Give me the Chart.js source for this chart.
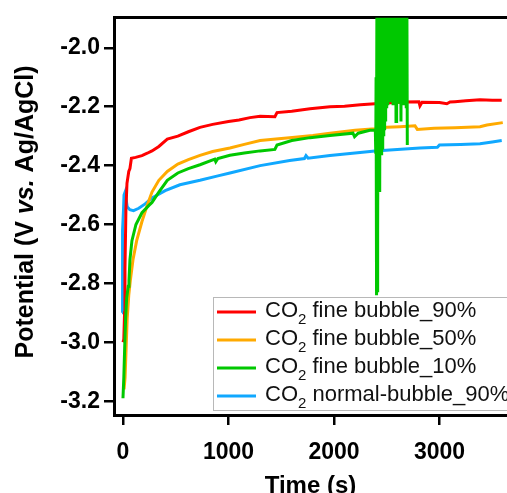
<!DOCTYPE html>
<html>
<head>
<meta charset="utf-8">
<title>Potential vs time</title>
<script src="https://cdn.jsdelivr.net/npm/chart.js@4.4.0/dist/chart.umd.min.js"></script>
<style>
    html, body { margin: 0; padding: 0; background: #fff; overflow: hidden; }
    #wrap { position: relative; width: 507px; height: 493px; }
</style>
</head>
<body>
<div id="wrap"><canvas id="potentialChart"></canvas></div>
<script>
// ======================
// Measured data: time (s) / potential (V vs. Ag/AgCl)
// ======================
const seriesLabels = ['CO₂ fine bubble_90%', 'CO₂ fine bubble_50%', 'CO₂ fine bubble_10%', 'CO₂ normal-bubble_90%'];

const xTicks = [0, 1000, 2000, 3000];
const yTicks = [-3.2, -3.0, -2.8, -2.6, -2.4, -2.2, -2.0];

const redTime = [0, 8, 15, 19, 28, 38, 55, 66, 80, 120, 180, 230, 275, 340, 420, 520, 620, 730, 850, 1000,
    1100, 1204, 1300, 1440, 1460, 1600, 1773, 1962, 2100, 2250, 2389, 2500, 2650, 2805, 2815, 2835, 3000, 3070, 3100, 3147,
    3250, 3384, 3500, 3590];
const redPotential = [-3.00, -2.99, -2.90, -2.75, -2.55, -2.46, -2.42, -2.41, -2.375, -2.372, -2.366, -2.358, -2.35, -2.335, -2.31, -2.30, -2.285, -2.27, -2.26, -2.25,
    -2.245, -2.237, -2.232, -2.234, -2.22, -2.215, -2.207, -2.20, -2.198, -2.193, -2.19, -2.187, -2.184, -2.183, -2.197, -2.185, -2.186, -2.19, -2.184, -2.183,
    -2.18, -2.176, -2.178, -2.178];

const orangeTime = [10, 20, 30, 40, 55, 70, 95, 130, 180, 230, 275, 340, 420, 520, 620, 730, 850, 1014, 1150, 1300,
    1450, 1580, 1800, 1962, 2200, 2389, 2500, 2626, 2768, 2790, 2950, 3147, 3384, 3450, 3600];
const orangePotential = [-3.16, -3.12, -3.02, -2.92, -2.84, -2.79, -2.72, -2.655, -2.59, -2.535, -2.49, -2.45, -2.42, -2.395, -2.38, -2.365, -2.352, -2.34, -2.328, -2.315,
    -2.31, -2.305, -2.298, -2.29, -2.28, -2.275, -2.27, -2.268, -2.265, -2.277, -2.273, -2.271, -2.268, -2.262, -2.254];

// 10% run: bubble burst noise between ~2400 s and ~2700 s, recording stops afterwards
const greenTime = [0, 8, 16, 25, 35, 50, 57, 66, 85, 123, 180, 246, 275, 340, 420, 520, 620, 730, 870, 880,
    900, 1014, 1150, 1300, 1440, 1460, 1600, 1773, 1962, 2180, 2195, 2230, 2340, 2392,
    2396, 2399, 2402, 2405, 2408, 2411, 2414, 2417, 2420, 2423, 2426, 2429, 2432, 2435, 2438, 2441, 2444, 2448, 2452, 2456,
    2460, 2464, 2468, 2472, 2476, 2480, 2484, 2488, 2492, 2496, 2500, 2504, 2508, 2512, 2516, 2520, 2524, 2528, 2532, 2536,
    2540, 2545, 2550, 2555, 2560, 2565, 2570, 2575, 2580, 2585, 2588, 2592, 2596, 2600, 2605, 2610, 2615, 2620, 2625, 2630,
    2635, 2640, 2645, 2650, 2655, 2660, 2665, 2670, 2675, 2680, 2685, 2690, 2695];
const greenPotential = [-3.19, -3.12, -3.02, -2.92, -2.85, -2.81, -2.79, -2.72, -2.655, -2.60, -2.56, -2.535, -2.525, -2.49, -2.45, -2.425, -2.41, -2.397, -2.378, -2.387,
    -2.376, -2.365, -2.357, -2.35, -2.345, -2.33, -2.315, -2.305, -2.298, -2.29, -2.302, -2.29, -2.28, -2.28,
    -2.36, -2.10, -2.84, -2.30, -1.70, -2.83, -1.75, -2.62, -1.80, -2.36, -1.72, -2.37, -1.85, -2.49, -1.70, -2.35, -1.78, -2.36, -1.74, -2.34,
    -1.82, -2.33, -1.70, -2.30, -1.76, -2.28, -1.93, -2.25, -1.72, -2.20, -1.80, -2.19, -1.74, -2.18, -1.85, -2.18, -1.72, -1.93, -2.18, -1.90,
    -2.17, -1.92, -2.18, -1.75, -2.19, -1.70, -2.18, -1.80, -2.18, -1.72, -2.25, -1.78, -2.18, -1.70, -2.19, -1.76, -2.18, -1.74, -2.19, -1.80,
    -2.25, -1.72, -2.19, -1.92, -2.18, -1.75, -2.19, -1.78, -2.18, -1.72, -2.20, -1.70, -2.33];

const blueTime = [-9, -7, -5, 0, 5, 10, 20, 28, 40, 65, 100, 150, 210, 275, 400, 540, 730, 900, 1014, 1300,
    1580, 1720, 1735, 1755, 1962, 2200, 2389, 2600, 2815, 2980, 3000, 3200, 3384, 3500, 3590];
const bluePotential = [-2.90, -2.80, -2.85, -2.62, -2.55, -2.50, -2.49, -2.51, -2.54, -2.55, -2.553, -2.545, -2.53, -2.51, -2.485, -2.465, -2.45, -2.435, -2.425, -2.40,
    -2.383, -2.376, -2.366, -2.375, -2.366, -2.357, -2.35, -2.345, -2.34, -2.338, -2.33, -2.328, -2.326, -2.32, -2.315];

// ======================
// Helpers
// ======================
const FONT = "'Liberation Sans', Arial, Helvetica, sans-serif";
const COLORS = ['#ff0000', '#ffaa00', '#00c800', '#10a8ff'];

function toPoints(times, values) {
    return times.map((t, i) => ({ x: t, y: values[i] }));
}

function makeSet(i, times, values, order) {
    return {
        label: seriesLabels[i],
        data: toPoints(times, values),
        borderColor: COLORS[i],
        backgroundColor: COLORS[i],
        borderWidth: 3,
        pointRadius: 0,
        tension: 0,
        order: order
    };
}

// axis titles and the boxed legend (subscript 2, italic "vs.")
const decorations = {
    id: 'decorations',
    afterDraw(chart) {
        const ctx = chart.ctx;
        const area = chart.chartArea;
        ctx.save();
        ctx.fillStyle = '#000';
        ctx.textBaseline = 'alphabetic';

        // x title
        ctx.font = `bold 24px ${FONT}`;
        ctx.textAlign = 'center';
        ctx.fillText('Time (s)', (area.left + area.right) / 2, 493);

        // y title, rotated
        const parts = [['Potential (V ', 'bold'], ['vs.', 'italic bold'], [' Ag/AgCl)', 'bold']];
        let total = 0;
        parts.forEach(p => { ctx.font = `${p[1]} 25px ${FONT}`; total += ctx.measureText(p[0]).width; });
        ctx.translate(33, 212);
        ctx.rotate(-Math.PI / 2);
        ctx.textAlign = 'left';
        let cx = -total / 2;
        parts.forEach(p => {
            ctx.font = `${p[1]} 25px ${FONT}`;
            ctx.fillText(p[0], cx, 0);
            cx += ctx.measureText(p[0]).width;
        });
        ctx.setTransform(1, 0, 0, 1, 0, 0);

        // legend
        ctx.fillStyle = '#fff';
        ctx.fillRect(213, 297, 320, 113);
        ctx.strokeStyle = '#b8b8b8';
        ctx.lineWidth = 1;
        ctx.strokeRect(213.5, 297.5, 320, 113);
        seriesLabels.forEach((label, i) => {
            const y = 312 + i * 28;
            ctx.strokeStyle = COLORS[i];
            ctx.lineWidth = 3;
            ctx.beginPath();
            ctx.moveTo(217, y);
            ctx.lineTo(256, y);
            ctx.stroke();

            const [head, tail] = label.split('₂');
            ctx.fillStyle = '#111';
            ctx.textAlign = 'left';
            let tx = 265;
            ctx.font = `22px ${FONT}`;
            ctx.fillText(head, tx, y + 5);
            tx += ctx.measureText(head).width;
            ctx.font = `15px ${FONT}`;
            ctx.fillText('2', tx, y + 12);
            tx += ctx.measureText('2').width;
            ctx.font = `22px ${FONT}`;
            ctx.fillText(tail, tx, y + 5);
        });
        ctx.restore();
    }
};

// ======================
// Chart
// ======================
const tickFont = { family: FONT, size: 23, weight: 'bold' };

const ctx = document.getElementById('potentialChart').getContext('2d');
const potentialChart = new Chart(ctx, {
    type: 'line',
    data: {
        datasets: [
            makeSet(0, redTime, redPotential, 1),
            makeSet(1, orangeTime, orangePotential, 2),
            makeSet(2, greenTime, greenPotential, 0),
            makeSet(3, blueTime, bluePotential, 3)
        ]
    },
    options: {
        responsive: true,
        maintainAspectRatio: false,
        animation: false,
        layout: { padding: 0 },
        plugins: {
            legend: { display: false },
            tooltip: { enabled: false },
            title: { display: false }
        },
        scales: {
            x: {
                type: 'linear',
                position: 'bottom',
                min: -85,
                max: 3640,
                z: 1,
                afterBuildTicks: scale => { scale.ticks = xTicks.map(v => ({ value: v })); },
                afterFit: scale => { scale.height = 78; },
                ticks: {
                    autoSkip: false,
                    maxRotation: 0,
                    padding: 14,
                    color: '#000',
                    font: tickFont,
                    callback: v => String(v)
                },
                grid: {
                    display: true,
                    drawOnChartArea: false,
                    drawTicks: true,
                    tickLength: 10,
                    tickWidth: 2.5,
                    tickColor: '#000',
                    color: '#000',
                    lineWidth: 2.5
                },
                border: { display: true, color: '#000', width: 3 }
            },
            xTop: {
                type: 'linear',
                position: 'top',
                z: 1,
                afterFit: scale => { scale.height = 17; },
                ticks: { display: false },
                grid: { display: false, drawTicks: false },
                border: { display: true, color: '#000', width: 3 }
            },
            y: {
                type: 'linear',
                position: 'left',
                min: -3.247,
                max: -1.898,
                z: 1,
                afterBuildTicks: scale => { scale.ticks = yTicks.map(v => ({ value: v })); },
                afterFit: scale => { scale.width = 114; },
                ticks: {
                    padding: 4,
                    color: '#000',
                    font: tickFont,
                    callback: v => v.toFixed(1)
                },
                grid: {
                    display: true,
                    drawOnChartArea: false,
                    drawTicks: true,
                    tickLength: 10,
                    tickWidth: 2.5,
                    tickColor: '#000',
                    color: '#000',
                    lineWidth: 2.5
                },
                border: { display: true, color: '#000', width: 3 }
            }
        }
    },
    plugins: [decorations]
});
</script>
</body>
</html>
